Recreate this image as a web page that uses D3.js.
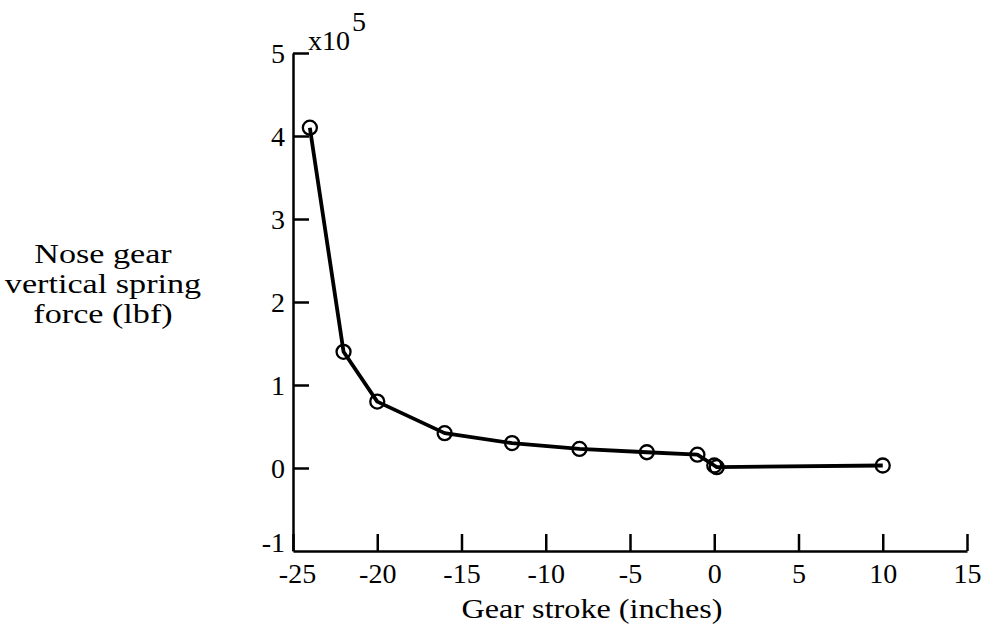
<!DOCTYPE html>
<html>
<head>
<meta charset="utf-8">
<script src="https://cdn.jsdelivr.net/npm/d3@7"></script>
<style>
  html, body { margin: 0; padding: 0; background: #fff; }
  svg { display: block; }
  svg text { font-family: 'Liberation Serif', 'DejaVu Serif', serif !important; fill: #000; }
</style>
</head>
<body>
<svg id="chart" width="993" height="642"></svg>
<script>
// Data
const strokeInches = [-24, -22, -20, -16, -12, -8, -4, -1, 0, 0.15, 10];
const springForce = [4.1, 1.4, 0.8, 0.42, 0.3, 0.23, 0.19, 0.16, 0.03, 0.01, 0.03]; // x10^5 lbf
const xTicks = [-25, -20, -15, -10, -5, 0, 5, 10, 15];
const yTicks = [-1, 0, 1, 2, 3, 4, 5];
const xTitle = "Gear stroke (inches)";
const yTitleLines = ["Nose gear", "vertical spring", "force (lbf)"];

const svg = d3.select("#chart");
const x = d3.scaleLinear().domain([-25, 15]).range([293, 967]);
const y = d3.scaleLinear().domain([-1, 5]).range([551, 53]);

const tickFont = 28;

// X axis
const gx = svg.append("g").attr("transform", `translate(0,${y(-1)})`)
  .call(d3.axisBottom(x).tickValues(xTicks).tickFormat(d => String(d))
    .tickSizeInner(-17).tickSizeOuter(0).tickPadding(12));
gx.attr("font-family", null);
gx.select(".domain").attr("stroke", "#000").attr("stroke-width", 2.5);
gx.selectAll(".tick line").attr("stroke", "#000").attr("stroke-width", 2.5);
gx.selectAll(".tick text").attr("font-size", tickFont).attr("dy", "0.71em")
  .attr("x", d => (d === -25 ? 4 : 0));

// Y axis
const gy = svg.append("g").attr("transform", `translate(${x(-25)},0)`)
  .call(d3.axisLeft(y).tickValues(yTicks).tickFormat(d => String(d))
    .tickSizeInner(-16).tickSizeOuter(0).tickPadding(9));
gy.attr("font-family", null);
gy.select(".domain").attr("stroke", "#000").attr("stroke-width", 2.5);
gy.selectAll(".tick line").attr("stroke", "#000").attr("stroke-width", 2.5);
gy.selectAll(".tick line").filter(d => d === -1).remove();
gy.selectAll(".tick text").attr("font-size", tickFont)
  .attr("x", -8)
  .attr("dy", d => d === -1 ? "0em" : "0.34em");

// Exponent label
const exp = svg.append("text")
  .attr("x", x(-25) + 15).attr("y", y(5) - 3)
  .attr("font-size", tickFont);
exp.append("tspan").text("x10");
exp.append("tspan").attr("dx", 2).attr("dy", -19).text("5");

// Data line
const pts = strokeInches.map((s, i) => [s, springForce[i]]);
svg.append("path").datum(pts)
  .attr("fill", "none").attr("stroke", "#000").attr("stroke-width", 3.8)
  .attr("stroke-linejoin", "round")
  .attr("d", d3.line().x(d => x(d[0])).y(d => y(d[1])));

svg.selectAll("circle.pt").data(pts).enter().append("circle")
  .attr("class", "pt")
  .attr("cx", d => x(d[0])).attr("cy", d => y(d[1])).attr("r", 7)
  .attr("fill", "none").attr("stroke", "#000").attr("stroke-width", 2.3);

// Axis titles
svg.append("text")
  .attr("transform", `translate(592,618) scale(1.15,1)`)
  .attr("text-anchor", "middle")
  .attr("font-size", 28).text(xTitle);

svg.append("text")
  .attr("transform", `translate(103,0) scale(1.22,1)`)
  .attr("text-anchor", "middle").attr("font-size", 28)
  .selectAll("tspan").data(yTitleLines).enter().append("tspan")
  .attr("x", 0).attr("y", (d, i) => 263 + i * 30).text(d => d);
</script>
</body>
</html>
